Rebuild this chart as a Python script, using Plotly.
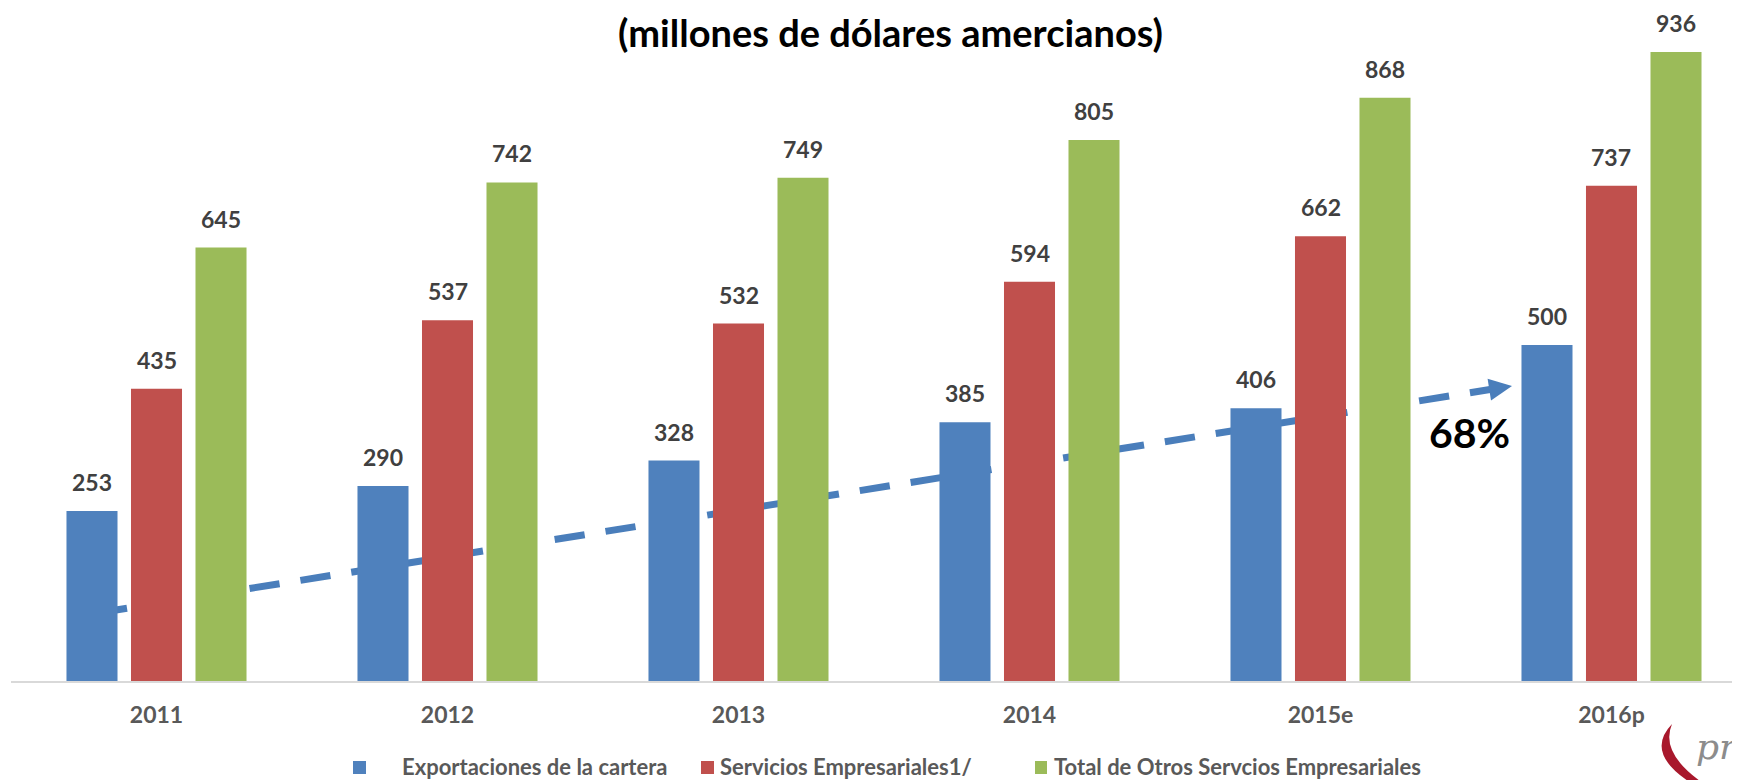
import plotly.graph_objects as go

# ---------------- data ----------------
years = ["2011", "2012", "2013", "2014", "2015e", "2016p"]
series_names = [
    "Exportaciones de la cartera",
    "Servicios Empresariales1/",
    "Total de Otros Servcios Empresariales",
]
exportaciones = [253, 290, 328, 385, 406, 500]
servicios = [435, 537, 532, 594, 662, 737]
total_otros = [645, 742, 749, 805, 868, 936]
growth_label = "68%"
title_text = "(millones de dólares amercianos)"

colors = ["#4F81BD", "#C0504D", "#9BBB59"]
series_values = [exportaciones, servicios, total_otros]

# ---------------- layout geometry (screen pixels) ----------------
OFF = 8                      # default page body margin
W, H = 1740 - OFF, 780 - OFF
SCR_LEFT, SCR_RIGHT, SCR_TOP, SCR_BOTTOM = 11, 1740, 40, 681
ML = SCR_LEFT - OFF
MR = (1740 - SCR_RIGHT)
MT = SCR_TOP - OFF
MB = H - (SCR_BOTTOM - OFF)
PLOT_W = SCR_RIGHT - SCR_LEFT
PLOT_H = SCR_BOTTOM - SCR_TOP
X0, X1 = -0.5, 5.4416
YMAX = PLOT_H / 0.672
BARGAP = 0.335
BARGROUPGAP = 0.209
SLOT = (1 - BARGAP) / 3

FONT = "Lato"
LABEL_COLOR = "#404040"
AXIS_TEXT = "#595959"


def dx(px):
    return X0 + (px - SCR_LEFT) / PLOT_W * (X1 - X0)


def dy(py):
    return (SCR_BOTTOM - py) / PLOT_H * YMAX


def pxp(px):
    return (px - SCR_LEFT) / PLOT_W


def pyp(py):
    return (SCR_BOTTOM - py) / PLOT_H


fig = go.Figure()
for name, vals, col in zip(series_names, series_values, colors):
    fig.add_trace(go.Bar(x=years, y=vals, name=name, marker=dict(color=col, line=dict(width=0)),
                         showlegend=False, hoverinfo="x+y+name"))

annotations = []
# data labels
for j, vals in enumerate(series_values):
    for i, v in enumerate(vals):
        annotations.append(dict(
            x=i + (j - 1) * SLOT, y=v, xref="x", yref="y", text=f"<b>{v}</b>",
            showarrow=False, yanchor="middle", xanchor="center", yshift=29,
            font=dict(family=FONT, size=23, color=LABEL_COLOR)))

# title (kept fully inside the page)
annotations.append(dict(x=pxp(890), y=pyp(OFF), xref="paper", yref="paper",
                        text=f"<b>{title_text}</b>", showarrow=False,
                        xanchor="center", yanchor="top", borderpad=0,
                        font=dict(family=FONT, size=38, color="#000000")))

# growth label
annotations.append(dict(x=pxp(1469), y=pyp(432), xref="paper", yref="paper",
                        text=f"<b>{growth_label}</b>", showarrow=False,
                        xanchor="center", yanchor="middle",
                        font=dict(family=FONT, size=41, color="#000000")))

# manual legend
legend_sq = [(353, 366), (701, 714), (1035, 1047)]
legend_tx = [400, 718, 1052]
shapes = []
for (a, b), tx, name, col in zip(legend_sq, legend_tx, series_names, colors):
    shapes.append(dict(type="rect", xref="paper", yref="paper",
                       x0=pxp(a), x1=pxp(b), y0=pyp(761), y1=pyp(774),
                       fillcolor=col, line=dict(width=0)))
    annotations.append(dict(x=pxp(tx), y=pyp(766), xref="paper", yref="paper",
                            text=f"<b>{name}</b>", showarrow=False,
                            xanchor="left", yanchor="middle",
                            font=dict(family=FONT, size=22, color=AXIS_TEXT)))

# dashed growth arrow (behind bars)
sx, sy = 97, 613
ex, ey = 1490, 389.5
shapes.append(dict(type="line", xref="x", yref="y", layer="below",
                   x0=dx(sx), y0=dy(sy), x1=dx(ex), y1=dy(ey),
                   line=dict(color="#4A7EBB", width=7, dash="30.4px,21.1px")))
head = [(1512, 386), (1491.0, 400.6), (1487.6, 378.8)]
path = "M " + " L ".join(f"{dx(a)},{dy(b)}" for a, b in head) + " Z"
shapes.append(dict(type="path", xref="x", yref="y", layer="below", path=path,
                   fillcolor="#4A7EBB", line=dict(width=0)))

# partial logo in the bottom-right corner
swoosh = "M {},{} Q {},{} {},{} L {},{} Q {},{} {},{} Z".format(
    pxp(1672), pyp(724), pxp(1645), pyp(752), pxp(1688), pyp(781),
    pxp(1700), pyp(781), pxp(1660), pyp(752), pxp(1672), pyp(724))
shapes.append(dict(type="path", xref="paper", yref="paper", path=swoosh,
                   fillcolor="#A8182C", line=dict(width=0)))
annotations.append(dict(x=pxp(1694), y=pyp(746), xref="paper", yref="paper",
                        text="<i>pr</i>", showarrow=False, xanchor="left", yanchor="middle",
                        font=dict(family="DejaVu Serif", size=36, color="#8C8C8C")))

fig.update_layout(
    width=W, height=H,
    margin=dict(l=ML, r=MR, t=MT, b=MB, autoexpand=False),
    paper_bgcolor="white", plot_bgcolor="white",
    barmode="group", bargap=BARGAP, bargroupgap=BARGROUPGAP,
    showlegend=False,
    annotations=annotations, shapes=shapes,
    xaxis=dict(type="category", range=[X0, X1], showgrid=False, zeroline=False,
               showline=True, linecolor="#D9D9D9", linewidth=2, ticks="",
               ticklabelstandoff=12,
               tickfont=dict(family=FONT, size=23, color=AXIS_TEXT, weight="bold")),
    yaxis=dict(range=[0, YMAX], visible=False, showgrid=False, zeroline=False),
)

fig.write_html("out.html")
